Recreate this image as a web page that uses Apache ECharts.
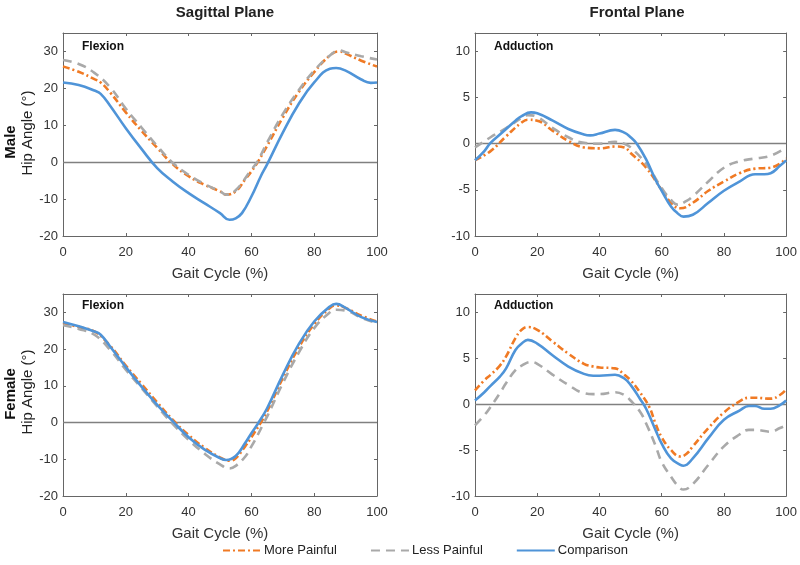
<!DOCTYPE html>
<html>
<head>
<meta charset="utf-8">
<script src="https://cdn.jsdelivr.net/npm/echarts@6/dist/echarts.min.js"></script>
<style>
html,body{margin:0;padding:0;background:#fff;}
#chart{width:800px;height:565px;}
</style>
</head>
<body>
<div id="chart"></div>
<script>
// ---------- DATA ----------
const planeTitles = ['Sagittal Plane', 'Frontal Plane'];
const panelLabels = ['Flexion', 'Adduction', 'Flexion', 'Adduction'];
const rowLabels = ['Male', 'Female'];
const seriesNames = ['More Painful', 'Less Painful', 'Comparison'];
const xTicks = [0, 20, 40, 60, 80, 100];
const sagTicks = [-20, -10, 0, 10, 20, 30];
const froTicks = [-10, -5, 0, 5, 10];

// Male – sagittal (flexion)
const maleSagMore = [[0,25.9],[5,24.5],[10,22.5],[12,21.6],[15,18.9],[20,13.5],[25,8.5],[30,3.9],[35,-0.6],[40,-3.8],[45,-6.1],[50,-7.9],[52,-8.8],[55,-7.9],[58,-4.7],[60,-2.5],[62,0],[65,4.4],[70,12.1],[75,18.9],[80,24.4],[85,28.9],[88,30],[90,29.4],[95,27.5],[100,25.9]];
const maleSagLess = [[0,27.7],[5,26.6],[10,24.2],[15,20.3],[20,14.5],[25,9.4],[30,4.4],[35,-0.2],[40,-3.4],[45,-5.9],[50,-7.9],[52,-8.8],[55,-7.6],[60,-2],[62,0.3],[65,5.3],[70,13],[75,19.4],[80,24.8],[85,28.9],[88,30.3],[90,29.8],[95,28.7],[100,27.8]];
const maleSagComp = [[0,21.6],[5,20.9],[10,19.4],[12,18.5],[15,15.3],[20,9.2],[25,3.6],[30,-1.6],[35,-5.3],[40,-8.4],[45,-11.1],[50,-13.8],[53,-15.6],[55,-15.2],[57,-13.8],[60,-9.3],[63,-3.8],[65,-0.6],[70,8],[75,15.7],[80,21.6],[85,25.3],[87,25.5],[90,24.8],[95,22.4],[98,21.5],[100,21.6]];

// Male – frontal (adduction)
const maleFroMore = [[0,-1.8],[5,-0.8],[10,0.8],[15,2.3],[17,2.6],[20,2.5],[25,1.4],[30,0.3],[35,-0.4],[40,-0.5],[45,-0.3],[48,-0.4],[50,-1.0],[55,-2.6],[60,-5.0],[63,-6.4],[66,-7.0],[70,-6.4],[75,-5.1],[80,-4.1],[85,-3.2],[90,-2.7],[95,-2.6],[100,-1.6]];
const maleFroLess = [[0,-0.4],[5,0.7],[10,1.7],[15,2.8],[17,3.1],[20,2.9],[25,1.7],[30,0.7],[35,0.1],[40,0.0],[45,0.2],[48,0],[50,-0.4],[55,-2.2],[60,-4.8],[63,-6.1],[65,-6.6],[68,-6.2],[70,-5.7],[75,-4.1],[80,-2.6],[85,-1.9],[90,-1.6],[95,-1.3],[100,-0.4]];
const maleFroComp = [[0,-1.8],[3,-0.8],[5,0.1],[8,1.0],[10,1.6],[13,2.5],[15,3.0],[18,3.4],[20,3.3],[25,2.5],[30,1.6],[35,1.0],[37,0.9],[40,1.1],[45,1.5],[48,1.2],[50,0.7],[52,0],[55,-1.7],[58,-3.9],[60,-5.1],[63,-6.8],[65,-7.5],[67,-7.9],[70,-7.7],[75,-6.4],[80,-5.1],[85,-4.1],[90,-3.3],[93,-3.3],[95,-3.2],[98,-2.4],[100,-1.8]];

// Female – sagittal (flexion)
const femSagMore = [[0,27.1],[5,26.0],[10,24.8],[15,20.9],[20,15.5],[25,10.5],[30,5.5],[35,0.7],[40,-3.4],[45,-6.8],[50,-9.5],[53,-10.4],[55,-9.7],[58,-6.5],[60,-4],[63,0],[65,3],[70,12.1],[75,20.3],[80,26.8],[85,31.2],[87,31.9],[90,31.2],[95,29.1],[100,27.5]];
const femSagLess = [[0,26.5],[5,25.5],[10,23.9],[15,19.8],[20,14.4],[25,9.4],[30,4.4],[35,-0.4],[40,-4.7],[45,-8.4],[50,-11.4],[53,-12.5],[55,-11.8],[58,-9.3],[60,-6.5],[62,-3.4],[64,0],[65,1.6],[70,10.7],[75,18.9],[80,25.7],[85,30],[87,30.7],[90,30.5],[95,28.5],[100,27.1]];
const femSagComp = [[0,27.4],[5,26.2],[10,24.8],[12,23.9],[15,20.7],[20,15.1],[25,9.8],[30,4.8],[35,0.3],[40,-4],[45,-7.3],[50,-9.7],[52,-10.2],[55,-9.1],[58,-5.6],[60,-2.9],[62,-0.4],[65,3.9],[70,13],[75,21.2],[80,27.5],[85,31.6],[87,32.3],[90,31.2],[95,28.7],[100,27.4]];

// Female – frontal (adduction)
const femFroMore = [[0,1.5],[3,2.6],[5,3.2],[8,4.2],[10,5.2],[13,7.2],[15,8.1],[17,8.4],[20,8.1],[25,6.8],[30,5.5],[35,4.4],[38,4.1],[40,4.0],[45,3.9],[48,3.2],[50,2.6],[53,1.3],[56,-0.3],[58,-2.1],[60,-3.6],[63,-5.0],[66,-5.7],[68,-5.4],[70,-4.6],[75,-2.6],[80,-0.9],[85,0.3],[88,0.7],[90,0.7],[95,0.6],[98,1.0],[100,1.6]];
const femFroLess = [[0,-2.3],[3,-1.2],[5,-0.3],[8,1.2],[10,2.3],[13,3.7],[15,4.2],[18,4.6],[20,4.4],[25,3.2],[30,2.1],[35,1.2],[38,1.1],[40,1.1],[45,1.3],[48,1.0],[50,0.4],[53,-0.8],[55,-2.1],[58,-4.5],[60,-6.3],[63,-7.9],[65,-8.8],[67,-9.3],[70,-8.7],[75,-6.6],[80,-4.6],[85,-3.3],[88,-2.8],[90,-2.8],[95,-3.0],[98,-2.6],[100,-2.3]];
const femFroComp = [[0,0.4],[3,1.3],[5,2.0],[8,3.0],[10,3.9],[13,5.9],[15,6.6],[17,7.0],[20,6.6],[25,5.3],[30,4.1],[35,3.3],[38,3.1],[40,3.1],[45,3.2],[48,2.8],[50,2.1],[53,0.6],[55,-0.5],[58,-2.8],[60,-4.3],[63,-5.9],[66,-6.6],[67,-6.7],[70,-5.9],[75,-3.7],[80,-1.7],[85,-0.7],[88,-0.2],[90,-0.2],[93,-0.5],[95,-0.5],[98,-0.1],[100,0.4]];

// ---------- CHART ----------
const panels = [
  {data:[maleSagMore, maleSagLess, maleSagComp], sag:true},
  {data:[maleFroMore, maleFroLess, maleFroComp], sag:false},
  {data:[femSagMore, femSagLess, femSagComp], sag:true},
  {data:[femFroMore, femFroLess, femFroComp], sag:false}
];
const gridPos = [
  {left:63, top:33, width:314, height:203},
  {left:475, top:33, width:313, height:203},
  {left:63, top:294, width:314, height:202},
  {left:475, top:294, width:313, height:202}
];
const FONT = 'Liberation Sans, Arial, sans-serif';
const AX = '#666666';
const TXT = '#333333';
const colors = ['#F07A24', '#A9A9A9', '#4F94D8'];
const lineTypes = [[7,3,2,3], [9,6], 'solid'];

const grids = [], xAxes = [], yAxes = [], series = [];
panels.forEach((p, i) => {
  grids.push(Object.assign({containLabel:false}, gridPos[i]));
  const ticks = p.sag ? sagTicks : froTicks;
  const ymin = p.sag ? -20 : -10, ymax = p.sag ? 35 : 12, yint = p.sag ? 10 : 5;
  const baseAxisLine = {show:true, onZero:false, lineStyle:{color:AX, width:1}};
  const tick = {show:true, inside:true, length:3, lineStyle:{color:AX}};
  xAxes.push({
    type:'value', gridIndex:i, position:'bottom', min:0, max:100, interval:20,
    axisLine:baseAxisLine, axisTick:tick, splitLine:{show:false},
    axisLabel:{color:TXT, fontFamily:FONT, fontSize:13, margin:10,
      formatter: v => xTicks.indexOf(v) >= 0 ? String(v) : ''},
    name:'Gait Cycle (%)', nameLocation:'middle', nameGap:30,
    nameTextStyle:{color:TXT, fontFamily:FONT, fontSize:15}
  });
  xAxes.push({
    type:'value', gridIndex:i, position:'top', min:0, max:100, interval:20,
    axisLine:baseAxisLine, axisTick:tick, axisLabel:{show:false}, splitLine:{show:false}
  });
  yAxes.push({
    type:'value', gridIndex:i, position:'left', min:ymin, max:ymax, interval:yint,
    axisLine:baseAxisLine, axisTick:tick, splitLine:{show:false},
    axisLabel:{color:TXT, fontFamily:FONT, fontSize:13, margin:5, showMaxLabel:false,
      formatter: v => ticks.indexOf(v) >= 0 ? String(v) : ''}
  });
  yAxes.push({
    type:'value', gridIndex:i, position:'right', min:ymin, max:ymax, interval:yint,
    axisLine:baseAxisLine, axisTick:tick, axisLabel:{show:false}, splitLine:{show:false}
  });
  p.data.forEach((d, k) => {
    const s = {
      name: seriesNames[k], type:'line', xAxisIndex:2*i, yAxisIndex:2*i,
      data:d, smooth:0.45, symbol:'none', showSymbol:false, silent:true,
      lineStyle:{color:colors[k], width:2.6, type:lineTypes[k], cap:'butt'},
      itemStyle:{color:colors[k]}, z: 3 + k
    };
    if (k === 0) {
      s.markLine = {silent:true, symbol:'none', label:{show:false},
        lineStyle:{color:'#808080', width:1.3, type:'solid'},
        data:[{yAxis:0}], z:2};
    }
    series.push(s);
  });
});

const titles = [
  {text:planeTitles[0], left:220, top:0, textAlign:'center',
   textStyle:{fontFamily:FONT, fontSize:15, fontWeight:'bold', color:'#222'}},
  {text:planeTitles[1], left:632, top:0, textAlign:'center',
   textStyle:{fontFamily:FONT, fontSize:15, fontWeight:'bold', color:'#222'}}
];

const labelPos = [[82,47],[494,47],[82,306],[494,306]];
const graphics = [];
panelLabels.forEach((t, i) => {
  graphics.push({type:'text', x:labelPos[i][0], y:labelPos[i][1],
    style:{text:t, font:'bold 12px ' + FONT, fill:'#111', verticalAlign:'middle', align:'left'}});
});
const rowCenters = [[142,133],[394,392]];
rowLabels.forEach((t, r) => {
  graphics.push({type:'text', x:11, y:rowCenters[r][0], rotation:Math.PI/2,
    style:{text:t, font:'bold 15px ' + FONT, fill:'#111', align:'center', verticalAlign:'middle'}});
  graphics.push({type:'text', x:28, y:rowCenters[r][1], rotation:Math.PI/2,
    style:{text:'Hip Angle (°)', font:'15px ' + FONT, fill:'#222', align:'center', verticalAlign:'middle'}});
});

const chart = echarts.init(document.getElementById('chart'), null, {renderer:'canvas'});
chart.setOption({
  animation:false,
  backgroundColor:'#fff',
  title:titles,
  grid:grids,
  xAxis:xAxes,
  yAxis:yAxes,
  series:series,
  graphic:graphics,
  legend:{
    data:seriesNames, left:217, top:539, itemWidth:38, itemHeight:14, itemGap:33,
    selectedMode:false,
    itemStyle:{opacity:0, borderWidth:0},
    textStyle:{fontFamily:FONT, fontSize:13, color:'#222', padding:[0,0,0,-2]}
  }
});
</script>
</body>
</html>
